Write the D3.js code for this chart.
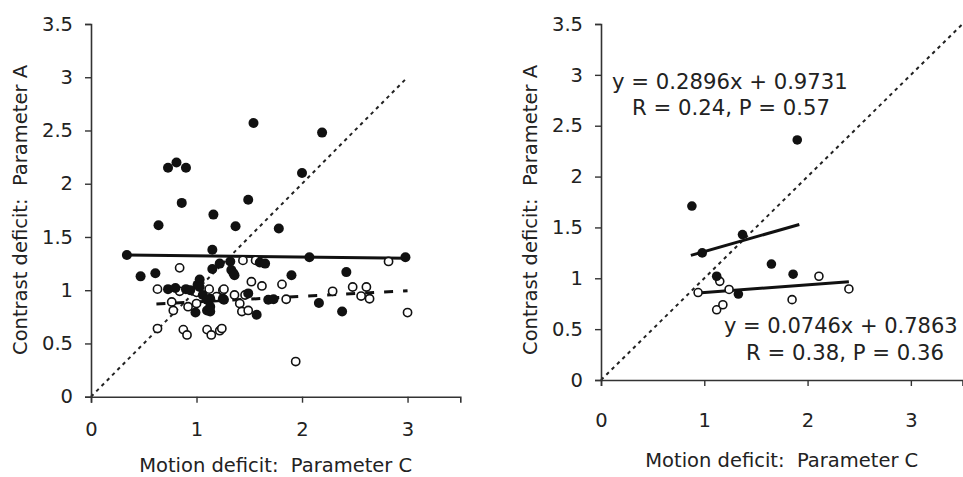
<!DOCTYPE html>
<html>
<head>
<meta charset="utf-8">
<script src="https://cdn.jsdelivr.net/npm/d3@7/dist/d3.min.js"></script>
<style>
  html, body { margin: 0; padding: 0; background: #fff; overflow: hidden; }
  text { font-family: "DejaVu Sans", Verdana, sans-serif; fill: #222; white-space: pre; }
</style>
</head>
<body>
<svg id="chart" width="963" height="477"></svg>
<script>
// ---------- data ----------
const xTicks = [0, 1, 2, 3];
const yTicks = [0, 0.5, 1, 1.5, 2, 2.5, 3, 3.5];
const yTickLabels = ["0", "0.5", "1", "1.5", "2", "2.5", "3", "3.5"];
const xTitle = "Motion deficit:  Parameter C";
const yTitle = "Contrast deficit:  Parameter A";

// Left panel: filled circles
const leftFilled = [
  [0.34,1.33],[0.47,1.13],[0.61,1.16],[0.64,1.61],[0.73,2.15],[0.81,2.20],[0.90,2.15],[0.86,1.82],
  [0.73,1.01],[0.80,1.02],[0.90,1.01],[1.01,1.05],[1.03,1.10],[1.03,1.03],[0.94,1.00],[1.06,0.955],
  [1.13,0.92],[1.10,0.91],[0.99,0.79],[1.10,0.81],[1.13,0.80],[1.13,0.845],[1.15,1.20],[1.16,1.71],
  [1.15,1.38],[1.22,1.25],[1.25,0.92],[1.26,0.91],[1.32,1.27],[1.33,1.19],[1.35,1.16],[1.36,1.14],[1.37,1.60],
  [1.49,1.85],[1.49,0.97],[1.54,2.57],[1.57,0.77],[1.60,1.26],[1.65,1.25],[1.68,0.91],[1.73,0.915],
  [1.78,1.58],[1.90,1.14],[2.00,2.10],[2.07,1.31],[2.16,0.88],[2.19,2.48],[2.38,0.80],[2.42,1.17],[2.98,1.31]
];
// Left panel: open circles
const leftOpen = [
  [0.63,1.01],[0.63,0.64],[0.765,0.89],[0.78,0.81],[0.84,1.21],[0.84,0.99],[0.875,0.63],[0.91,0.58],
  [0.92,0.845],[1.00,0.875],[1.00,0.98],[1.10,0.63],[1.12,1.01],[1.14,0.58],[1.19,0.94],[1.22,0.62],
  [1.24,0.64],[1.25,1.00],[1.26,1.01],[1.36,0.955],[1.41,0.875],[1.43,0.80],[1.44,1.28],[1.46,0.955],
  [1.49,0.81],[1.52,1.08],[1.56,1.28],[1.62,1.04],[1.81,1.055],[1.85,0.915],[1.94,0.33],[2.29,0.99],
  [2.48,1.03],[2.56,0.945],[2.61,1.03],[2.64,0.92],[2.82,1.27],[3.00,0.79]
];
// Left panel fit lines (end points)
const leftSolidFit = [[0.34,1.33],[3.0,1.30]];
const leftDashedFit = [[0.62,0.87],[3.0,0.995]];
const leftDiagonal = [[0,0],[3,3]];

// Right panel
const rightFilled = [[0.88,1.71],[0.98,1.25],[1.12,1.02],[1.33,0.845],[1.37,1.43],[1.65,1.14],[1.86,1.04],[1.90,2.36]];
const rightOpen = [[0.94,0.86],[1.15,0.97],[1.12,0.69],[1.18,0.74],[1.24,0.89],[1.85,0.79],[2.11,1.02],[2.40,0.895]];
const rightFitFilled = { slope: 0.2896, intercept: 0.9731, x0: 0.87, x1: 1.92 };
const rightFitOpen = { slope: 0.0746, intercept: 0.7863, x0: 0.94, x1: 2.40 };
const rightDiagonal = [[0,0],[3.5,3.5]];
const rightEq1 = ["y = 0.2896x + 0.9731", "R = 0.24, P = 0.57"];
const rightEq2 = ["y = 0.0746x + 0.7863", "R = 0.38, P = 0.36"];

// ---------- drawing ----------
const svg = d3.select("#chart");

function drawPanel(p) {
  const g = svg.append("g");
  const x = d3.scaleLinear().domain([0, 3.5]).range([p.x0, p.x1]);
  const y = d3.scaleLinear().domain([0, 3.5]).range([p.y0, p.y1]);

  const line = d3.line().x(d => x(d[0])).y(d => y(d[1]));

  // diagonal
  g.append("path").datum(p.diag).attr("d", line)
    .attr("fill", "none").attr("stroke", "#222").attr("stroke-width", 2)
    .attr("stroke-dasharray", "3.5,4");

  // axes
  const xa = g.append("g").attr("transform", `translate(0,${p.y0})`)
    .call(d3.axisBottom(x).tickValues(xTicks).tickSizeOuter(0).tickSize(6).tickPadding(p.xPad).tickFormat(d3.format("d")));
  const ya = g.append("g").attr("transform", `translate(${p.x0},0)`)
    .call(d3.axisLeft(y).tickValues(yTicks).tickSizeOuter(0).tickSize(6).tickPadding(12).tickFormat((d, i) => yTickLabels[i]));
  [xa, ya].forEach(a => {
    a.select(".domain").attr("stroke", "#333").attr("stroke-width", 1.6);
    a.selectAll(".tick line").attr("stroke", "#333").attr("stroke-width", 1.4);
    a.selectAll(".tick text").attr("font-size", 19.5).attr("fill", "#222")
      .attr("font-family", '"DejaVu Sans", Verdana, sans-serif');
  });

  // fit lines
  p.fits.forEach(f => {
    g.append("path").datum(f.pts).attr("d", line)
      .attr("fill", "none").attr("stroke", "#111").attr("stroke-width", 3)
      .attr("stroke-dasharray", f.dash || null);
  });

  // points
  g.selectAll(".open").data(p.open).join("circle")
    .attr("cx", d => x(d[0])).attr("cy", d => y(d[1])).attr("r", p.rOpen)
    .attr("fill", "#fff").attr("stroke", "#111").attr("stroke-width", 1.6);
  g.selectAll(".filled").data(p.filled).join("circle")
    .attr("cx", d => x(d[0])).attr("cy", d => y(d[1])).attr("r", p.rFilled)
    .attr("fill", "#111");

  // titles
  g.append("text").attr("x", (p.x0 + p.x1) / 2).attr("y", p.titleY)
    .attr("text-anchor", "middle").attr("font-size", 19.5).text(xTitle);
  g.append("text").attr("transform", `translate(${p.yTitleX},210) rotate(-90)`)
    .attr("text-anchor", "middle").attr("font-size", 19.5).text(yTitle);

  return { g, x, y };
}

const fitPts = f => [[f.x0, f.slope * f.x0 + f.intercept], [f.x1, f.slope * f.x1 + f.intercept]];

drawPanel({
  x0: 91, x1: 460.3, y0: 396.7, y1: 24, xPad: 19, titleY: 471.5, yTitleX: 27,
  diag: leftDiagonal, filled: leftFilled, open: leftOpen, rFilled: 5, rOpen: 4.1,
  fits: [{ pts: leftSolidFit }, { pts: leftDashedFit, dash: "9,10" }]
});

const R = drawPanel({
  x0: 601, x1: 962.5, y0: 380, y1: 24, xPad: 27, titleY: 467, yTitleX: 537,
  diag: rightDiagonal, filled: rightFilled, open: rightOpen, rFilled: 4.8, rOpen: 4,
  fits: [{ pts: fitPts(rightFitFilled) }, { pts: fitPts(rightFitOpen) }]
});

// equations
const eq = R.g.append("g");
eq.append("text").attr("x", 612).attr("y", 89).attr("font-size", 21.2).text(rightEq1[0]);
eq.append("text").attr("x", 731).attr("y", 115).attr("text-anchor", "middle").attr("font-size", 21.2).text(rightEq1[1]);
eq.append("text").attr("x", 724).attr("y", 333).attr("font-size", 21).text(rightEq2[0]);
eq.append("text").attr("x", 845).attr("y", 360).attr("text-anchor", "middle").attr("font-size", 21.2).text(rightEq2[1]);
</script>
</body>
</html>
